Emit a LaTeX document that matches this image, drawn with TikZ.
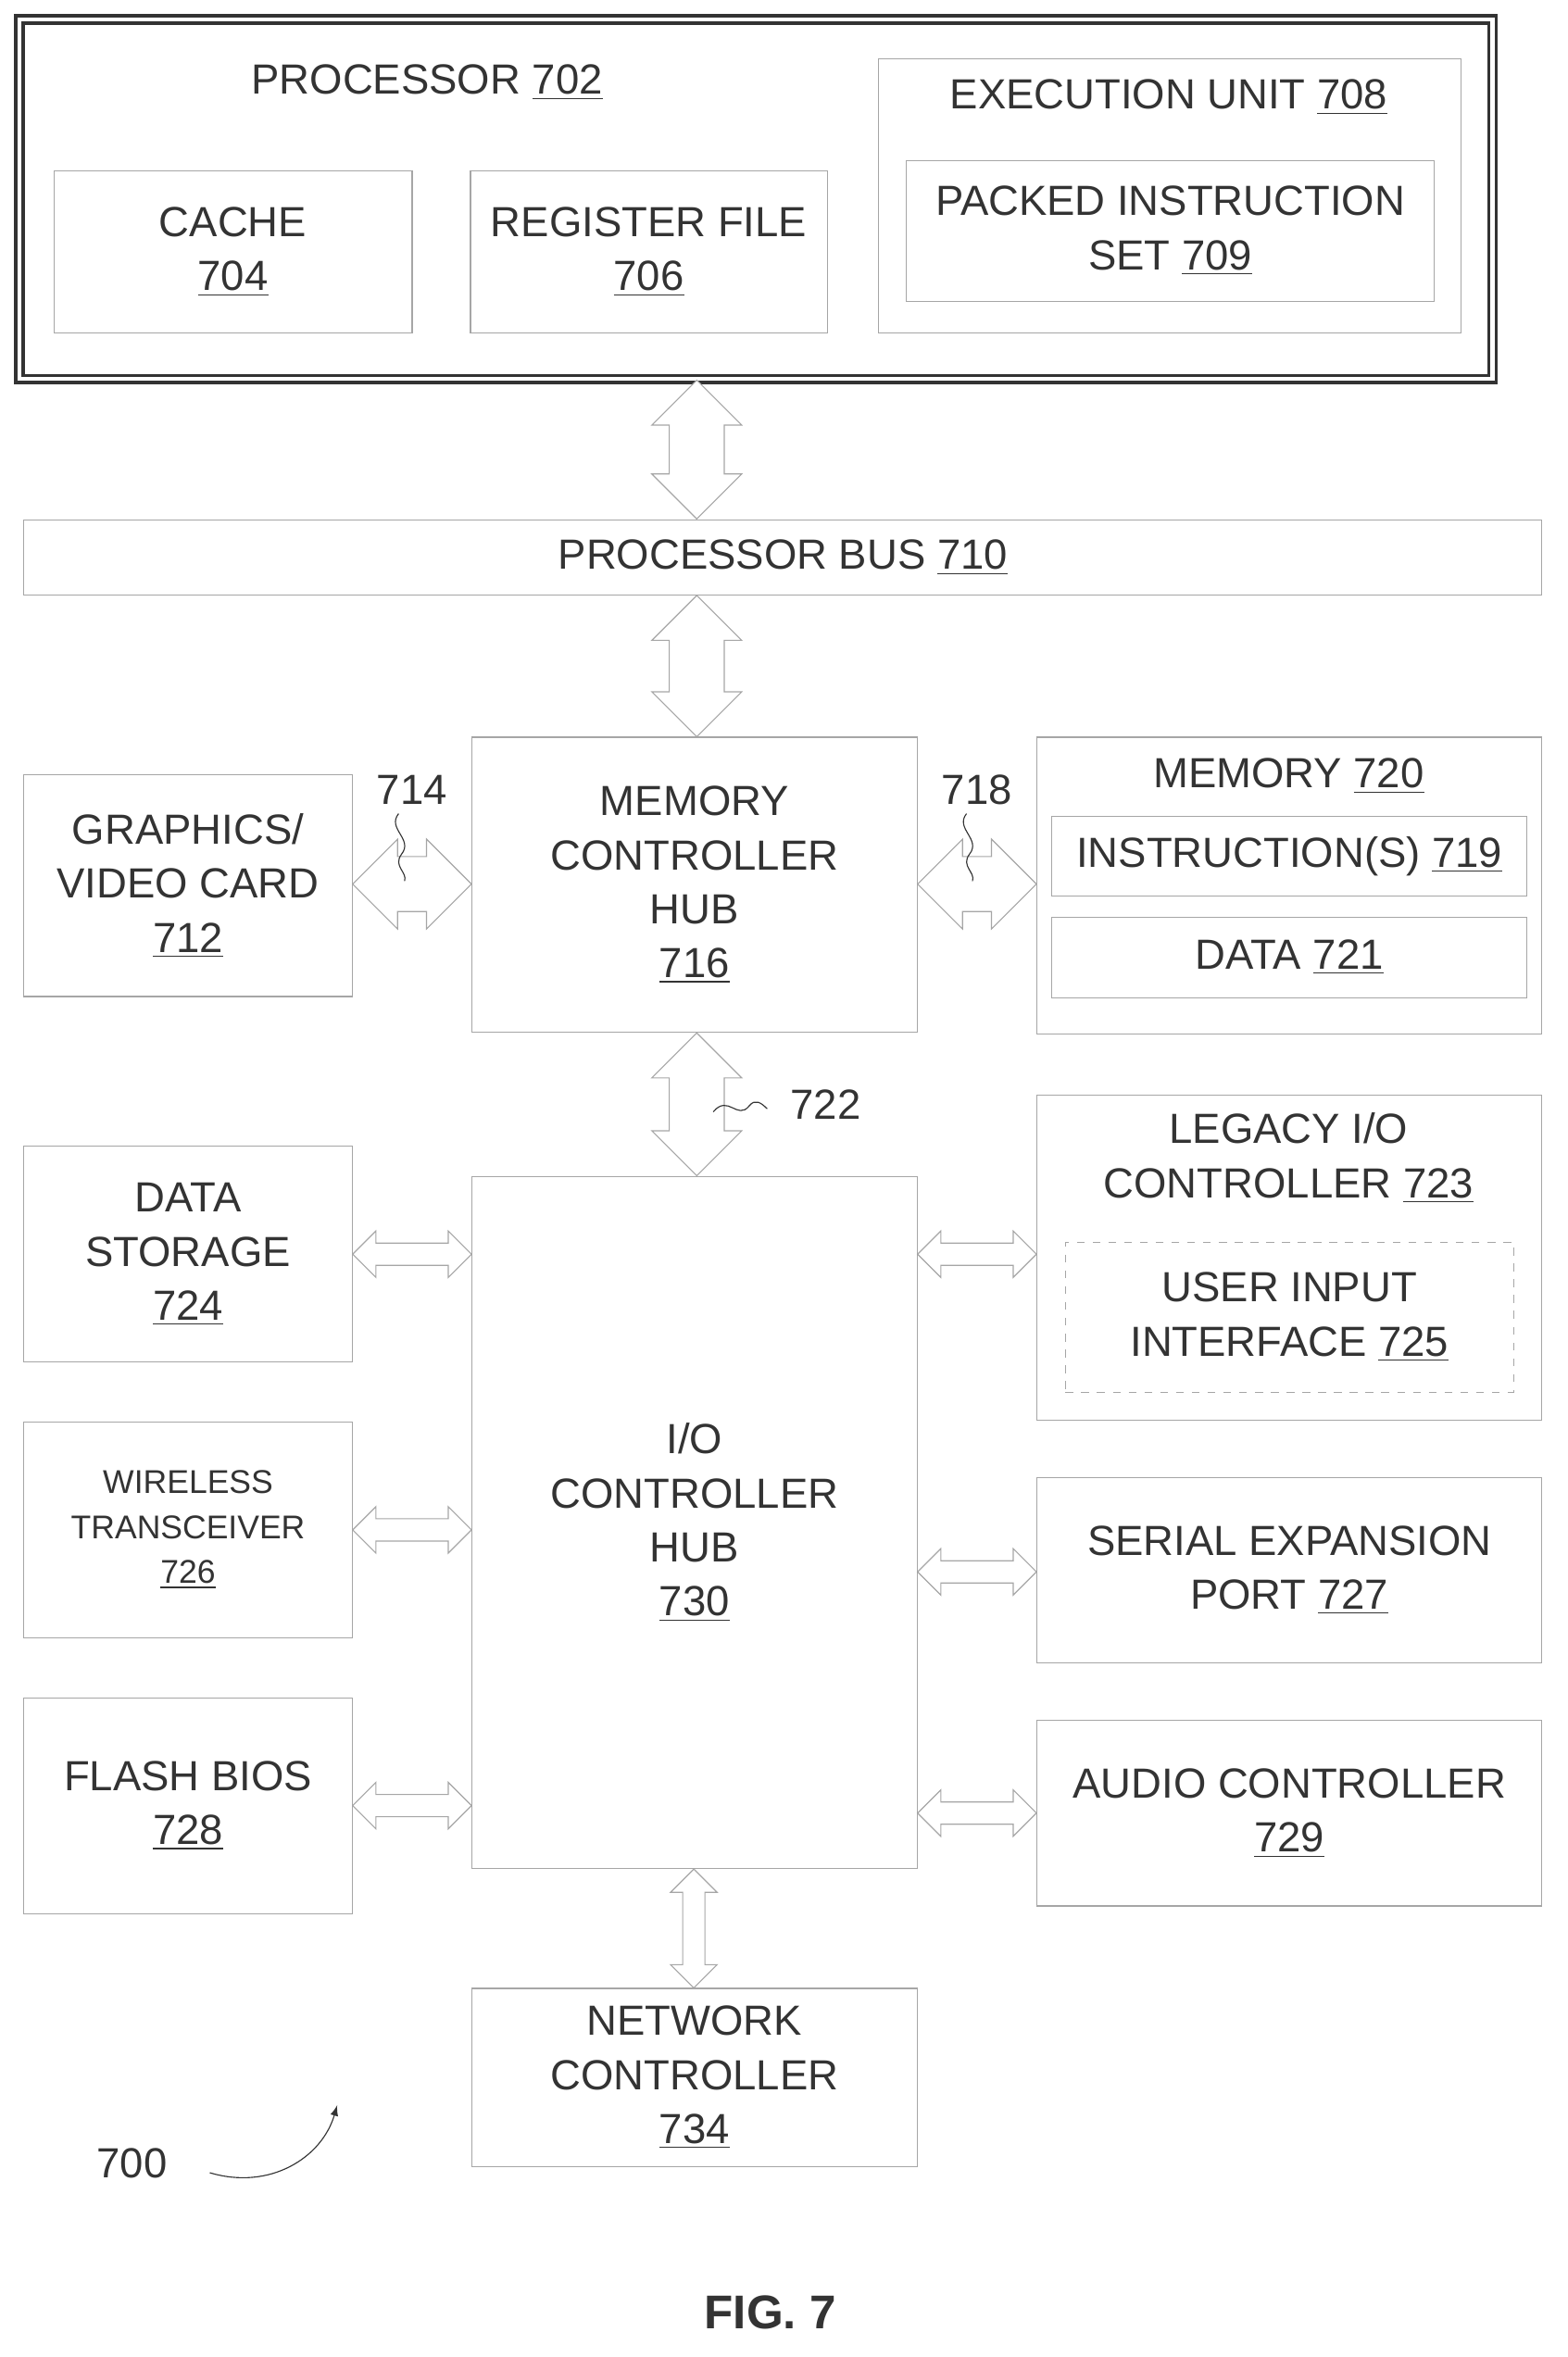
\documentclass[tikz,border=0pt]{standalone}
\usepackage{fontspec}
\setmainfont{Liberation Sans}
\usetikzlibrary{positioning, fit, calc, shapes.arrows}
\definecolor{ink}{gray}{0.2}
\tikzset{
  box/.style={draw=gray!70, inner sep=0pt},
  txt/.style={align=center, text=ink, font=\fontsize{16}{20.5}\selectfont, inner sep=0pt},
  lbl/.style={text=ink, font=\fontsize{16}{20}\selectfont, inner sep=1pt},
  fatv/.style={draw=gray!70, fill=white, shape=double arrow, shape border rotate=90, minimum width=1.2cm, inner sep=0.34cm, double arrow head extend=0.22cm},
  fath/.style={draw=gray!70, fill=white, shape=double arrow, minimum width=1.2cm, inner sep=0.34cm, double arrow head extend=0.22cm},
  thinv/.style={draw=gray!70, fill=white, shape=double arrow, shape border rotate=90, minimum width=0.62cm, inner sep=0.14cm, double arrow head extend=0.16cm},
  thinh/.style={draw=gray!70, fill=white, shape=double arrow, minimum width=0.62cm, inner sep=0.14cm, double arrow head extend=0.16cm},
  squig/.style={draw=ink, thin}
}
\newcommand{\ul}[1]{\underline{#1}}
% box with centred text
\newcommand{\blk}[4][]{\node[box, #1, fit={#3}] (#2) {}; \node[txt] at (#2.center) {#4};}
\begin{document}
\begin{tikzpicture}[x=0.02cm, y=-0.02cm]
\useasboundingbox (0,0) rectangle (1046,1573);
% processor
\node[box, draw=ink, double, double distance=1.5pt, very thick, fit={(13,13)(996,253)}] (proc) {};
\node[lbl] at (285,55) {PROCESSOR \ul{702}};
\blk{cache}{(36,114)(275,222)}{CACHE\\\ul{704}}
\blk{reg}{(314,114)(552,222)}{REGISTER FILE\\\ul{706}}
\node[box, fit={(586,39)(975,222)}] (exec) {};
\node[lbl] at (780,65) {EXECUTION UNIT \ul{708}};
\blk{packed}{(605,107)(957,201)}{PACKED INSTRUCTION\\SET \ul{709}}
% bus and hubs
\blk{bus}{(16,347)(1029,397)}{PROCESSOR BUS \ul{710}}
\blk{mch}{(315,492)(612,689)}{MEMORY\\CONTROLLER\\HUB\\\ul{716}}
\blk{gfx}{(16,517)(235,665)}{GRAPHICS/\\VIDEO CARD\\\ul{712}}
\node[box, fit={(692,492)(1029,690)}] (mem) {};
\node[lbl] at (860,518) {MEMORY \ul{720}};
\blk{instr}{(702,545)(1019,598)}{INSTRUCTION(S) \ul{719}}
\blk{data}{(702,612)(1019,666)}{DATA \ul{721}}
\blk{ich}{(315,785)(612,1247)}{I/O\\CONTROLLER\\HUB\\\ul{730}}
\blk{stor}{(16,765)(235,909)}{DATA\\STORAGE\\\ul{724}}
\node[box, fit={(16,949)(235,1093)}] (wless) {};
\node[txt, font=\fontsize{12.5}{17}\selectfont] at (wless.center) {WIRELESS\\TRANSCEIVER\\\ul{726}};
\blk{flash}{(16,1133)(235,1277)}{FLASH BIOS\\\ul{728}}
\node[box, fit={(692,731)(1029,948)}] (legacy) {};
\node[txt] at (860,773) {LEGACY I/O\\CONTROLLER \ul{723}};
\blk[dashed]{uii}{(711,829)(1010,929)}{USER INPUT\\INTERFACE \ul{725}}
\blk{serial}{(692,986)(1029,1110)}{SERIAL EXPANSION\\PORT \ul{727}}
\blk{audio}{(692,1148)(1029,1272)}{AUDIO CONTROLLER\\\ul{729}}
\blk{net}{(315,1327)(612,1446)}{NETWORK\\CONTROLLER\\\ul{734}}
% fat links
\path let \p1=(proc.south), \p2=(bus.north) in node[fatv, minimum height={\y1-\y2}] at (465,300) {};
\path let \p1=(bus.south), \p2=(mch.north) in node[fatv, minimum height={\y1-\y2}] at (465,444.5) {};
\path let \p1=(mch.south), \p2=(ich.north) in node[fatv, minimum height={\y1-\y2}] at (465,737) {};
\path let \p1=(gfx.east), \p2=(mch.west) in node[fath, minimum height={\x2-\x1}] at (275,590) {};
\path let \p1=(mch.east), \p2=(mem.west) in node[fath, minimum height={\x2-\x1}] at (652,590) {};
% thin links
\foreach \b/\yy in {stor/837, wless/1021, flash/1205}
  \path let \p1=(\b.east), \p2=(ich.west) in node[thinh, minimum height={\x2-\x1}] at (275,\yy) {};
\foreach \b/\yy in {legacy/837, serial/1049, audio/1210}
  \path let \p1=(ich.east), \p2=(\b.west) in node[thinh, minimum height={\x2-\x1}] at (652,\yy) {};
\path let \p1=(ich.south), \p2=(net.north) in node[thinv, minimum height={\y1-\y2}] at (463,1287) {};
% reference numerals
\node[lbl] at (275,527) {714};
\draw[squig] (266,543) .. controls (258,553) and (276,560) .. (268,570) .. controls (262,578) and (272,582) .. (270,588);
\node[lbl] at (652,527) {718};
\draw[squig] (645,543) .. controls (637,553) and (655,560) .. (647,570) .. controls (641,578) and (651,582) .. (649,588);
\node[lbl] at (551,737) {722};
\draw[squig] (476,742) .. controls (486,730) and (492,748) .. (500,738) .. controls (504,733) and (508,736) .. (512,740);
\node[lbl] at (88,1444) {700};
\draw[squig, -latex] (140,1450) .. controls (180,1462) and (215,1440) .. (225,1405);
\node[font=\bfseries\fontsize{18}{20}\selectfont, text=ink] at (514,1543) {FIG. 7};
\end{tikzpicture}
\end{document}
